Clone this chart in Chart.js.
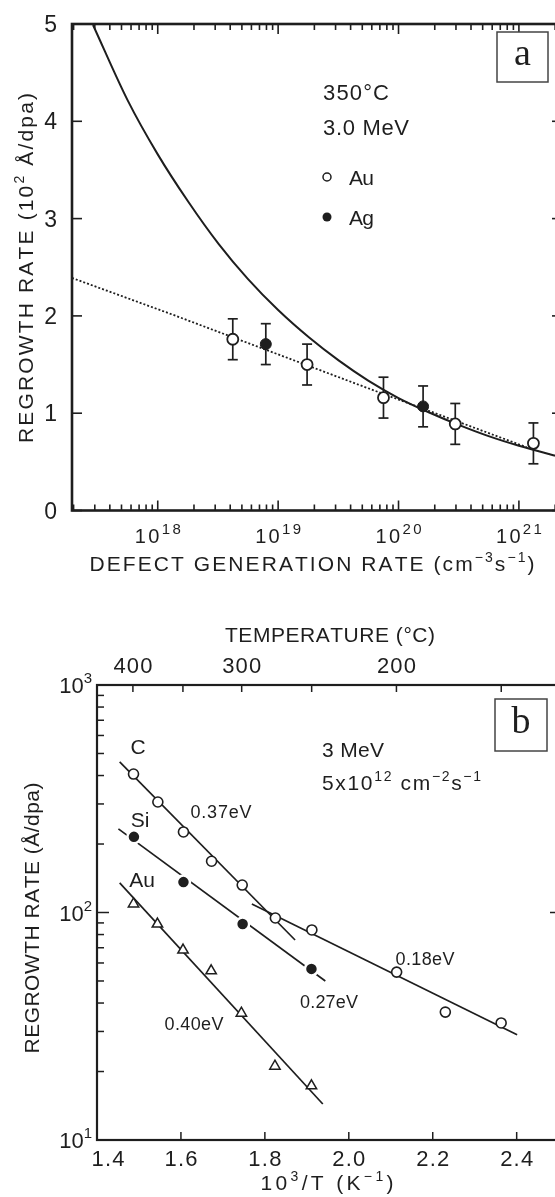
<!DOCTYPE html>
<html>
<head>
<meta charset="utf-8">
<script src="https://cdn.jsdelivr.net/npm/chart.js@4.4.1/dist/chart.umd.min.js"></script>
<style>
  html, body { margin: 0; padding: 0; background: #fff; }
  body { width: 555px; height: 1197px; overflow: hidden; position: relative; }
  canvas { position: absolute; left: 0; }
  #doseChart { top: 0; }
  #tempChart { top: 585px; }
</style>
</head>
<body>
<canvas id="doseChart" width="575" height="585"></canvas>
<canvas id="tempChart" width="575" height="612"></canvas>
<script>
// (a) regrowth rate vs defect generation rate, 350°C, 3.0 MeV
const genAu = [4.2e18, 1.74e19, 7.5e19, 2.96e20, 1.32e21];
const rateAu = [1.76, 1.5, 1.16, 0.89, 0.69];
const genAg = [7.9e18, 1.6e20];
const rateAg = [1.71, 1.07];
const rateErr = 0.21;
const modelGen = [2.9e17, 5.6e17, 1e18, 1.8e18, 3.2e18, 5.6e18, 1e19, 1.8e19, 3.2e19, 5.6e19, 1e20, 1.8e20, 3.2e20, 5.6e20, 1e21, 1.8e21, 2.3e21];
const modelRate = [4.99, 4.22, 3.66, 3.17, 2.74, 2.38, 2.06, 1.78, 1.54, 1.335, 1.156, 1.007, 0.877, 0.764, 0.665, 0.579, 0.546];
const fitGen = [1.94e17, 1.35e18, 4.0e18, 4.5e19, 1.16e21];
const fitRate = [2.39, 2.01, 1.79, 1.3, 0.65];
const genTickExp = [18, 19, 20, 21];
const rateTicks = [0, 1, 2, 3, 4, 5];

// (b) regrowth rate vs 1000/T, 3 MeV, 5x10^12 cm^-2 s^-1
const invT_C = [1.487, 1.545, 1.606, 1.673, 1.746, 1.825, 1.912, 2.114, 2.23, 2.363];
const rate_C = [406, 306, 226, 168, 132, 94.6, 83.8, 54.7, 36.5, 32.7];
const invT_Si = [1.488, 1.606, 1.747, 1.911];
const rate_Si = [215, 136, 89, 56.5];
const invT_Au = [1.487, 1.544, 1.605, 1.672, 1.744, 1.824, 1.911];
const rate_Au = [109, 89, 68.4, 55.4, 36.1, 21.1, 17.3];
const fitC37X = [1.454, 1.872], fitC37Y = [459, 75.7];
const fitC18X = [1.769, 2.401], fitC18Y = [109, 29.0];
const fitSi27X = [1.451, 1.944], fitSi27Y = [233, 50.0];
const fitAu40X = [1.454, 1.938], fitAu40Y = [135, 14.4];
const invTTicks = [1.4, 1.6, 1.8, 2.0, 2.2, 2.4];
const tempTicks = [400, 350, 300, 250, 200, 150];
const tempLabels = [400, 300, 200];
const rateDecades = [1, 2, 3];

const SANS = '"Liberation Sans", Arial, sans-serif';
const SERIF = '"Liberation Serif", "Times New Roman", serif';
const INK = "#1e1e1e";

const pts = (xs, ys) => xs.map((x, i) => ({ x, y: ys[i] }));

// text drawn glyph by glyph so that it can be spread to a given width;
// parts are [text, fontSize, rise]
const spaced = (ctx, parts, x, y, width = 0, align = "left") => {
  const chars = [];
  parts.forEach(([t, size, rise]) => {
    for (const ch of t) chars.push({ ch, size, rise: rise || 0 });
  });
  let natural = 0;
  chars.forEach((c) => {
    ctx.font = `${c.size}px ${SANS}`;
    c.w = ctx.measureText(c.ch).width;
    natural += c.w;
  });
  const gap = width && chars.length > 1 ? (width - natural) / (chars.length - 1) : 0;
  const total = width || natural;
  let cx = align === "center" ? x - total / 2 : align === "right" ? x - total : x;
  ctx.textAlign = "left";
  ctx.textBaseline = "alphabetic";
  chars.forEach((c) => {
    ctx.font = `${c.size}px ${SANS}`;
    ctx.fillText(c.ch, cx, y + c.rise);
    cx += c.w + gap;
  });
};

const line = (ctx, x1, y1, x2, y2) => {
  ctx.beginPath();
  ctx.moveTo(x1, y1);
  ctx.lineTo(x2, y2);
  ctx.stroke();
};

const panelBox = (ctx, label, l, t, w, h) => {
  ctx.save();
  ctx.fillStyle = "#fff";
  ctx.fillRect(l, t, w, h);
  ctx.strokeStyle = "#444";
  ctx.lineWidth = 1.5;
  ctx.strokeRect(l, t, w, h);
  ctx.fillStyle = INK;
  ctx.font = `38px ${SERIF}`;
  ctx.textAlign = "center";
  ctx.textBaseline = "middle";
  ctx.fillText(label, l + w / 2, t + h / 2 - 2);
  ctx.restore();
};

const hiddenAxes = {
  x: { display: false },
  y: { display: false },
};

const doseDecor = {
  id: "doseDecor",
  beforeDatasetsDraw(chart) {
    const { ctx, scales: { x, y } } = chart;
    ctx.save();
    ctx.strokeStyle = INK;
    ctx.lineWidth = 1.7;
    const all = pts(genAu, rateAu).concat(pts(genAg, rateAg));
    all.forEach((p) => {
      const px = x.getPixelForValue(p.x);
      const top = y.getPixelForValue(p.y + rateErr);
      const bot = y.getPixelForValue(p.y - rateErr);
      line(ctx, px, top, px, bot);
      line(ctx, px - 5, top, px + 5, top);
      line(ctx, px - 5, bot, px + 5, bot);
    });
    ctx.restore();
  },
  afterDraw(chart) {
    const { ctx, chartArea: a, scales: { x, y } } = chart;
    ctx.save();
    ctx.strokeStyle = INK;
    ctx.fillStyle = INK;
    ctx.lineWidth = 2.6;
    ctx.strokeRect(a.left, a.top, a.right - a.left, a.bottom - a.top);

    ctx.lineWidth = 1.6;
    for (let e = 17; e <= 21; e++) {
      for (let m = 1; m <= 9; m++) {
        const v = m * Math.pow(10, e);
        if (v < x.min || v > x.max) continue;
        const px = x.getPixelForValue(v);
        const len = m === 1 ? 10 : 6;
        line(ctx, px, a.top, px, a.top + len);
        line(ctx, px, a.bottom, px, a.bottom - len);
      }
    }
    rateTicks.forEach((v) => {
      const py = y.getPixelForValue(v);
      line(ctx, a.left, py, a.left + 10, py);
      line(ctx, a.right, py, a.right - 10, py);
      spaced(ctx, [[String(v), 23]], a.left - 15, py + 8, 0, "right");
    });
    genTickExp.forEach((e) => {
      const px = x.getPixelForValue(Math.pow(10, e));
      spaced(ctx, [["10", 20], [String(e), 15, -9]], px, 543, 46, "center");
    });

    spaced(ctx, [["DEFECT GENERATION RATE (cm", 21], ["\u22123", 14, -9], ["s", 21], ["\u22121", 14, -9], [")", 21]], 312, 571, 445, "center");

    ctx.save();
    ctx.translate(33, 268);
    ctx.rotate(-Math.PI / 2);
    spaced(ctx, [["REGROWTH RATE (10", 21], ["2", 14, -9], [" \u00c5/dpa)", 21]], 0, 0, 350, "center");
    ctx.restore();

    spaced(ctx, [["350\u00b0C", 22]], 323, 100, 66);
    spaced(ctx, [["3.0 MeV", 22]], 323, 135, 86);
    ctx.lineWidth = 1.5;
    ctx.beginPath();
    ctx.arc(327, 177, 4, 0, Math.PI * 2);
    ctx.stroke();
    spaced(ctx, [["Au", 21]], 349, 185, 25);
    ctx.beginPath();
    ctx.arc(327, 217, 4.5, 0, Math.PI * 2);
    ctx.fill();
    spaced(ctx, [["Ag", 21]], 349, 225, 25);

    panelBox(ctx, "a", 497, 32, 51, 50);
    ctx.restore();
  },
};

new Chart(document.getElementById("doseChart"), {
  type: "line",
  data: {
    datasets: [
      {
        label: "Au",
        data: pts(genAu, rateAu),
        showLine: false,
        pointStyle: "circle",
        pointRadius: 5.5,
        pointBackgroundColor: "#fff",
        pointBorderColor: INK,
        pointBorderWidth: 1.8,
      },
      {
        label: "Ag",
        data: pts(genAg, rateAg),
        showLine: false,
        pointStyle: "circle",
        pointRadius: 5.5,
        pointBackgroundColor: INK,
        pointBorderColor: INK,
        pointBorderWidth: 1,
      },
      {
        label: "model",
        data: pts(modelGen, modelRate),
        borderColor: INK,
        borderWidth: 2,
        pointRadius: 0,
        cubicInterpolationMode: "monotone",
      },
      {
        label: "log fit",
        data: pts(fitGen, fitRate),
        borderColor: INK,
        borderWidth: 1.8,
        borderDash: [2, 2],
        pointRadius: 0,
      },
    ],
  },
  options: {
    responsive: false,
    animation: false,
    devicePixelRatio: 1,
    events: [],
    layout: { padding: { left: 72, top: 24, right: 13, bottom: 74.5 } },
    scales: {
      x: { ...hiddenAxes.x, type: "logarithmic", min: 1.94e17, max: 2.28e21 },
      y: { ...hiddenAxes.y, type: "linear", min: 0, max: 5 },
    },
    plugins: { legend: { display: false }, tooltip: { enabled: false } },
  },
  plugins: [doseDecor],
});

const tempDecor = {
  id: "tempDecor",
  afterDraw(chart) {
    const { ctx, chartArea: a, scales: { x, y } } = chart;
    ctx.save();
    ctx.strokeStyle = INK;
    ctx.fillStyle = INK;
    ctx.lineWidth = 2.2;
    ctx.strokeRect(a.left, a.top, a.right - a.left, a.bottom - a.top);

    ctx.lineWidth = 1.5;
    for (let e = 1; e <= 2; e++) {
      for (let m = 1; m <= 9; m++) {
        const py = y.getPixelForValue(m * Math.pow(10, e));
        const len = m === 1 ? 12 : 7;
        line(ctx, a.left, py, a.left + len, py);
        line(ctx, a.right, py, a.right - len, py);
      }
    }
    rateDecades.forEach((e) => {
      const py = y.getPixelForValue(Math.pow(10, e));
      spaced(ctx, [["10", 22], [String(e), 15, -10]], a.left - 5, py + 8, 0, "right");
    });
    invTTicks.forEach((v) => {
      const px = x.getPixelForValue(v);
      line(ctx, px, a.bottom, px, a.bottom - 8);
      const cx = v === 1.4 ? px + 11 : px;
      spaced(ctx, [[v.toFixed(1), 22]], cx, a.bottom + 26, 33, "center");
    });
    tempTicks.forEach((t) => {
      const px = x.getPixelForValue(1000 / (t + 273.15));
      line(ctx, px, a.top, px, a.top + 7);
      if (tempLabels.includes(t)) spaced(ctx, [[String(t), 22]], px, 88, 39, "center");
    });

    spaced(ctx, [["TEMPERATURE (\u00b0C)", 21]], 330, 57, 210, "center");
    spaced(ctx, [["10", 21], ["3", 14, -9], ["/T (K", 21], ["\u22121", 14, -9], [")", 21]], 327, 605, 133, "center");

    ctx.save();
    ctx.translate(39, 333);
    ctx.rotate(-Math.PI / 2);
    spaced(ctx, [["REGROWTH RATE (\u00c5/dpa)", 21]], 0, 0, 271, "center");
    ctx.restore();

    spaced(ctx, [["C", 21]], 138, 169, 0, "center");
    spaced(ctx, [["Si", 21]], 140, 242, 0, "center");
    spaced(ctx, [["Au", 21]], 142, 302, 0, "center");
    spaced(ctx, [["0.37eV", 18]], 221, 233, 61, "center");
    spaced(ctx, [["0.18eV", 18]], 425, 380, 59, "center");
    spaced(ctx, [["0.27eV", 18]], 329, 423, 58, "center");
    spaced(ctx, [["0.40eV", 18]], 194, 445, 59, "center");
    spaced(ctx, [["3 MeV", 21]], 322, 172, 62);
    spaced(ctx, [["5x10", 21], ["12", 14, -9], [" cm", 21], ["\u22122", 14, -9], ["s", 21], ["\u22121", 14, -9]], 322, 205, 159);

    panelBox(ctx, "b", 495, 114, 52, 52);
    ctx.restore();
  },
};

const fitLine = (label, xs, ys) => ({
  label,
  data: pts(xs, ys),
  borderColor: INK,
  borderWidth: 1.7,
  pointRadius: 0,
});

new Chart(document.getElementById("tempChart"), {
  type: "line",
  data: {
    datasets: [
      {
        label: "C",
        data: pts(invT_C, rate_C),
        showLine: false,
        pointRadius: 5,
        pointBackgroundColor: "#fff",
        pointBorderColor: INK,
        pointBorderWidth: 1.6,
      },
      {
        label: "Si",
        data: pts(invT_Si, rate_Si),
        showLine: false,
        pointRadius: 6.5,
        pointBackgroundColor: INK,
        pointBorderColor: "#fff",
        pointBorderWidth: 2.5,
      },
      {
        label: "Au",
        data: pts(invT_Au, rate_Au),
        showLine: false,
        pointStyle: "triangle",
        pointRadius: 6,
        pointBackgroundColor: "#fff",
        pointBorderColor: INK,
        pointBorderWidth: 1.5,
      },
      fitLine("0.37eV", fitC37X, fitC37Y),
      fitLine("0.18eV", fitC18X, fitC18Y),
      fitLine("0.27eV", fitSi27X, fitSi27Y),
      fitLine("0.40eV", fitAu40X, fitAu40Y),
    ],
  },
  options: {
    responsive: false,
    animation: false,
    devicePixelRatio: 1,
    events: [],
    layout: { padding: { left: 97, top: 100, right: 13, bottom: 57 } },
    scales: {
      x: { ...hiddenAxes.x, type: "linear", min: 1.4, max: 2.508 },
      y: { ...hiddenAxes.y, type: "logarithmic", min: 10, max: 1000 },
    },
    plugins: { legend: { display: false }, tooltip: { enabled: false } },
  },
  plugins: [tempDecor],
});
</script>
</body>
</html>
